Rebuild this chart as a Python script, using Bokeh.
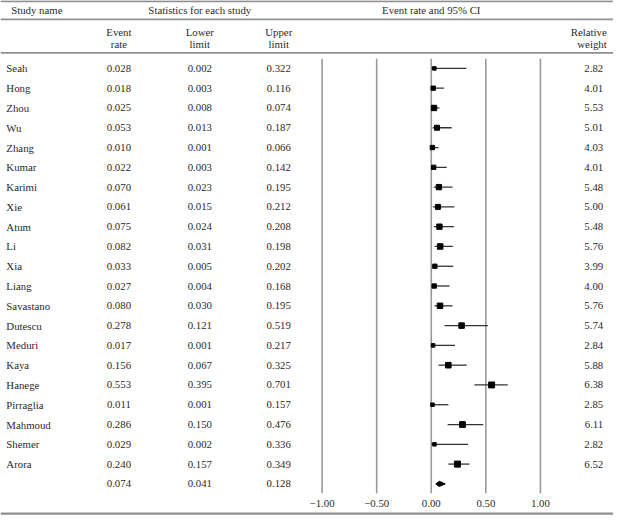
from bokeh.plotting import figure
from bokeh.models import Range1d, ColumnDataSource
from bokeh.core.properties import value
from bokeh.embed import file_html
from bokeh.resources import INLINE

# ---------------- data ----------------
studies = ["Seah", "Hong", "Zhou", "Wu", "Zhang", "Kumar", "Karimi", "Xie", "Atum", "Li",
           "Xia", "Liang", "Savastano", "Dutescu", "Meduri", "Kaya", "Hanege", "Pirraglia",
           "Mahmoud", "Shemer", "Arora"]
event_rate = [0.028, 0.018, 0.025, 0.053, 0.010, 0.022, 0.070, 0.061, 0.075, 0.082,
              0.033, 0.027, 0.080, 0.278, 0.017, 0.156, 0.553, 0.011, 0.286, 0.029, 0.240]
lower_limit = [0.002, 0.003, 0.008, 0.013, 0.001, 0.003, 0.023, 0.015, 0.024, 0.031,
               0.005, 0.004, 0.030, 0.121, 0.001, 0.067, 0.395, 0.001, 0.150, 0.002, 0.157]
upper_limit = [0.322, 0.116, 0.074, 0.187, 0.066, 0.142, 0.195, 0.212, 0.208, 0.198,
               0.202, 0.168, 0.195, 0.519, 0.217, 0.325, 0.701, 0.157, 0.476, 0.336, 0.349]
rel_weight = [2.82, 4.01, 5.53, 5.01, 4.03, 4.01, 5.48, 5.00, 5.48, 5.76,
              3.99, 4.00, 5.76, 5.74, 2.84, 5.88, 6.38, 2.85, 6.11, 2.82, 6.52]
pooled_rate, pooled_lower, pooled_upper = 0.074, 0.041, 0.128
axis_ticks = [-1.0, -0.5, 0.0, 0.5, 1.0]

# ---------------- layout helpers (reference-pixel -> data units) ----------------
W, H = 613, 515
def dx(px):
    return (px - 442.0) / 112.0
def dy(py):
    return (py - 70.0) / 20.4

FONT = value("Liberation Serif")
FS = "10.8px"
TXT = "#2a2a2a"
RULE = "#8f8f8f"

p = figure(width=W, height=H, output_backend="svg", toolbar_location=None,
           x_range=Range1d(dx(0), dx(629)), y_range=Range1d(dy(531), dy(0)),
           x_axis_location=None, y_axis_location=None, min_border=0)
p.grid.visible = False
p.outline_line_color = None
p.background_fill_color = "white"
p.border_fill_color = "white"

n = len(studies)
rows = list(range(n))
sum_row = n

# horizontal rules
for py, lw in [(0.8, 2.0), (19.5, 1.6), (54.0, 1.6), (529.0, 2.2)]:
    p.segment(x0=[dx(0)], x1=[dx(629)], y0=[dy(py)], y1=[dy(py)],
              line_color=RULE, line_width=lw)

# vertical reference lines
p.segment(x0=axis_ticks, x1=axis_ticks, y0=[dy(60)] * len(axis_ticks),
          y1=[dy(508)] * len(axis_ticks), line_color="#9a9a9a", line_width=1.6)

# tick labels
p.text(x=axis_ticks, y=[dy(519)] * len(axis_ticks),
       text=[f"{t:.2f}".replace("-", "\u2212") for t in axis_ticks],
       text_font=FONT, text_font_size=FS, text_color=TXT,
       text_align="center", text_baseline="middle")

# CI lines and squares
src = ColumnDataSource(dict(
    y=rows, est=event_rate, lo=lower_limit, hi=upper_limit,
    size=[1.6 + 0.68 * w for w in rel_weight]))
p.segment(x0="lo", x1="hi", y0="y", y1="y", source=src,
          line_color="#333333", line_width=1.3)
p.scatter(x="est", y="y", size="size", marker="square", source=src,
          fill_color="black", line_color="black")

# pooled diamond
hh = 0.13
p.patch(x=[pooled_lower, pooled_rate, pooled_upper, pooled_rate],
        y=[sum_row, sum_row - hh, sum_row, sum_row + hh],
        fill_color="black", line_color="black", line_width=1)

# header texts
def txt(x, y, s, align="center"):
    p.text(x=[x], y=[y], text=[s], text_font=FONT, text_font_size=FS,
           text_color=TXT, text_align=align, text_baseline="middle")

txt(dx(11), dy(10), "Study name", "left")
txt(dx(204.5), dy(10), "Statistics for each study")
txt(dx(442), dy(10), "Event rate and 95% CI")
for cx, l1, l2 in [(121.5, "Event", "rate"), (204.5, "Lower", "limit"), (285.5, "Upper", "limit")]:
    txt(dx(cx), dy(32.5), l1)
    txt(dx(cx), dy(45), l2)
txt(dx(622), dy(32.5), "Relative", "right")
txt(dx(622), dy(45), "weight", "right")

# table body
all_rows = rows + [sum_row]
p.text(x=[dx(6)] * n, y=rows, text=studies, text_font=FONT, text_font_size=FS,
       text_color=TXT, text_align="left", text_baseline="middle")
for cx, vals in [(121.5, event_rate + [pooled_rate]),
                 (204.5, lower_limit + [pooled_lower]),
                 (285.5, upper_limit + [pooled_upper])]:
    p.text(x=[dx(cx)] * len(all_rows), y=all_rows, text=[f"{v:.3f}" for v in vals],
           text_font=FONT, text_font_size=FS, text_color=TXT,
           text_align="center", text_baseline="middle")
p.text(x=[dx(618.5)] * n, y=rows, text=[f"{w:.2f}" for w in rel_weight],
       text_font=FONT, text_font_size=FS, text_color=TXT,
       text_align="right", text_baseline="middle")

open("out.html", "w").write(file_html(p, INLINE))
